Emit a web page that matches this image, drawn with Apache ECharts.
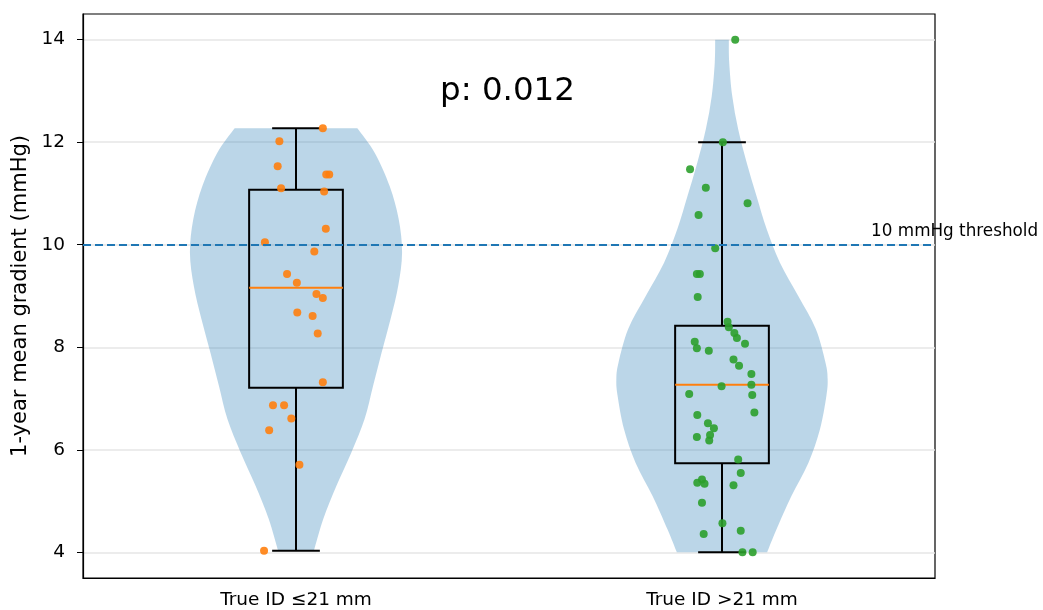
<!DOCTYPE html>
<html>
<head>
<meta charset="utf-8">
<script src="https://cdn.jsdelivr.net/npm/echarts@6/dist/echarts.min.js"></script>
<style>
  html, body { margin: 0; padding: 0; background: #fff; }
  #main { width: 1043px; height: 610px; }
</style>
</head>
<body>
<div id="main"></div>
<script>
var categories = ['True ID ≤21 mm', 'True ID >21 mm'];
var yTicks = [4, 6, 8, 10, 12, 14];
var threshold = 10;

// jittered points, group 1 (x = jittered position, y = gradient)
var group1X = [1.063, 0.961, 0.957, 1.071, 1.078, 0.965, 1.066, 1.070, 0.927, 1.043, 0.979, 1.002,
    1.048, 1.063, 1.003, 1.039, 1.051, 1.063, 0.946, 0.972, 0.989, 0.937, 1.008, 0.925];
var group1Y = [12.27, 12.02, 11.53, 11.37, 11.37, 11.10, 11.04, 10.31, 10.05, 9.87, 9.43, 9.26,
    9.04, 8.96, 8.68, 8.61, 8.27, 7.32, 6.87, 6.87, 6.61, 6.38, 5.71, 4.03];

// group 2
var group2X = [2.031, 2.002, 1.925, 1.962, 2.060, 1.945, 1.984, 1.941, 1.948, 1.943, 2.013, 2.016,
    2.029, 2.035, 2.054, 1.936, 1.941, 1.969, 2.027, 2.040, 2.069, 1.999, 2.069, 1.923, 2.071,
    2.076, 1.942, 1.967, 1.981, 1.972, 1.941, 1.970, 2.038, 2.044, 1.953, 1.942, 1.959, 2.027,
    1.953, 2.001, 2.044, 1.957, 2.048, 2.072];
var group2Y = [14.0, 12.0, 11.47, 11.11, 10.81, 10.58, 9.93, 9.43, 9.43, 8.98, 8.50, 8.39,
    8.28, 8.18, 8.07, 8.11, 7.98, 7.93, 7.76, 7.64, 7.48, 7.24, 7.27, 7.09, 7.07,
    6.73, 6.68, 6.52, 6.42, 6.29, 6.25, 6.18, 5.81, 5.55, 5.42, 5.36, 5.34, 5.31,
    4.97, 4.57, 4.42, 4.36, 4.0, 4.0];

// box stats per group
var boxLow = [4.03, 4.0];
var boxQ1 = [7.21, 5.74];
var boxMedian = [9.16, 7.27];
var boxQ3 = [11.07, 8.42];
var boxHigh = [12.27, 12.0];

// violin outlines: level (gradient) and half width (x units)
var violin1Levels = [4.03, 4.65, 5.30, 5.95, 6.60, 7.25, 7.90, 8.55, 9.20, 9.85, 10.50, 11.14, 11.79, 12.27];
var violin1Half = [0.042, 0.064, 0.095, 0.130, 0.161, 0.181, 0.201, 0.222, 0.240, 0.249, 0.241, 0.220, 0.185, 0.144];
var violin2Levels = [4.0, 4.45, 5.10, 5.75, 6.40, 7.05, 7.38, 7.70, 8.36, 9.0, 9.65, 10.30, 10.95, 11.6, 12.25, 12.9, 13.55, 14.0];
var violin2Half = [0.106, 0.128, 0.163, 0.203, 0.230, 0.245, 0.248, 0.243, 0.220, 0.179, 0.136, 0.105, 0.081, 0.058, 0.038, 0.024, 0.017, 0.016];

var violins = [
    { pos: 1, levels: violin1Levels, half: violin1Half },
    { pos: 2, levels: violin2Levels, half: violin2Half }
];

var font = 'DejaVu Sans';
var fs = 18.5;

var dom = document.getElementById('main');
var myChart = echarts.init(dom, null, { renderer: 'canvas' });

function zip(xs, ys) {
    return xs.map(function (x, i) { return [x, ys[i]]; });
}

// smooth curve through pixel points (catmull-rom as cubic beziers)
function curveThrough(pts) {
    var d = '';
    for (var i = 0; i < pts.length - 1; i++) {
        var p0 = pts[Math.max(i - 1, 0)], p1 = pts[i], p2 = pts[i + 1], p3 = pts[Math.min(i + 2, pts.length - 1)];
        var c1x = p1[0] + (p2[0] - p0[0]) / 6, c1y = p1[1] + (p2[1] - p0[1]) / 6;
        var c2x = p2[0] - (p3[0] - p1[0]) / 6, c2y = p2[1] - (p3[1] - p1[1]) / 6;
        d += ' C' + c1x + ' ' + c1y + ' ' + c2x + ' ' + c2y + ' ' + p2[0] + ' ' + p2[1];
    }
    return d;
}

var option = {
    animation: false,
    title: {
        text: 'p: 0.012',
        left: 435,
        top: 70,
        textStyle: { fontFamily: font, fontSize: 32.5, fontWeight: 'normal', color: '#000' }
    },
    grid: {
        left: 83, right: 108, top: 14, bottom: 31,
        show: true, borderColor: '#000', borderWidth: 1.2
    },
    xAxis: [
        {
            type: 'category',
            data: categories,
            boundaryGap: true,
            axisLine: { lineStyle: { color: '#000', width: 1.2 } },
            axisTick: { alignWithLabel: true, length: 6, lineStyle: { color: '#000' } },
            axisLabel: { fontFamily: font, fontSize: fs, color: '#000', margin: 13 },
            splitLine: { show: false }
        },
        {
            type: 'value',
            min: 0.5, max: 2.5,
            show: false
        }
    ],
    yAxis: {
        type: 'value',
        min: 3.5, max: 14.5,
        name: '1-year mean gradient (mmHg)',
        nameLocation: 'middle',
        nameGap: 50,
        nameTextStyle: { fontFamily: font, fontSize: 21, color: '#000' },
        axisLine: { show: true, lineStyle: { color: '#000', width: 1.2 } },
        axisTick: { show: true, length: 6, customValues: yTicks, lineStyle: { color: '#000' } },
        axisLabel: { fontFamily: font, fontSize: fs, color: '#000', margin: 18, customValues: yTicks },
        splitLine: { show: true, lineStyle: { color: '#e6e6e6', width: 1.5 } }
    },
    series: [
        {
            name: 'violin',
            type: 'custom',
            xAxisIndex: 1,
            yAxisIndex: 0,
            z: 2,
            data: violins.map(function (v) { return [v.pos]; }),
            renderItem: function (params, api) {
                var v = violins[params.dataIndex];
                var left = [], right = [];
                for (var i = 0; i < v.levels.length; i++) {
                    left.push(api.coord([v.pos - v.half[i], v.levels[i]]));
                }
                for (var j = v.levels.length - 1; j >= 0; j--) {
                    right.push(api.coord([v.pos + v.half[j], v.levels[j]]));
                }
                var d = 'M' + left[0][0] + ' ' + left[0][1] + curveThrough(left) +
                    ' L' + right[0][0] + ' ' + right[0][1] + curveThrough(right) + ' Z';
                return {
                    type: 'path',
                    shape: { pathData: d },
                    style: { fill: 'rgba(31,119,180,0.3)', stroke: 'none' }
                };
            }
        },
        {
            name: 'box',
            type: 'custom',
            xAxisIndex: 1,
            yAxisIndex: 0,
            z: 3,
            data: [1, 2].map(function (p, i) {
                return [p, boxLow[i], boxQ1[i], boxMedian[i], boxQ3[i], boxHigh[i]];
            }),
            renderItem: function (params, api) {
                var p = api.value(0);
                var bw = 0.11, cw = 0.056;
                var lo = api.value(1), q1 = api.value(2), md = api.value(3), q3 = api.value(4), hi = api.value(5);
                var tl = api.coord([p - bw, q3]);
                var br = api.coord([p + bw, q1]);
                var black = { stroke: '#000', lineWidth: 2, fill: 'none' };
                function seg(x1, y1, x2, y2, style) {
                    var a = api.coord([x1, y1]), b = api.coord([x2, y2]);
                    return { type: 'line', shape: { x1: a[0], y1: a[1], x2: b[0], y2: b[1] }, style: style };
                }
                return {
                    type: 'group',
                    children: [
                        { type: 'rect', shape: { x: tl[0], y: tl[1], width: br[0] - tl[0], height: br[1] - tl[1] }, style: black },
                        seg(p, q3, p, hi, black),
                        seg(p, q1, p, lo, black),
                        seg(p - cw, hi, p + cw, hi, black),
                        seg(p - cw, lo, p + cw, lo, black),
                        seg(p - bw, md, p + bw, md, { stroke: '#ff7f0e', lineWidth: 2 })
                    ]
                };
            },
            markLine: {
                silent: true,
                symbol: 'none',
                label: { show: false },
                lineStyle: { color: '#1f77b4', type: [8, 4], width: 2 },
                data: [{ yAxis: threshold }]
            }
        },
        {
            name: 'True ID ≤21 mm',
            type: 'scatter',
            xAxisIndex: 1,
            yAxisIndex: 0,
            z: 4,
            symbolSize: 8,
            itemStyle: { color: '#ff7f0e', opacity: 0.9 },
            data: zip(group1X, group1Y)
        },
        {
            name: 'True ID >21 mm',
            type: 'scatter',
            xAxisIndex: 1,
            yAxisIndex: 0,
            z: 4,
            symbolSize: 8,
            itemStyle: { color: '#2ca02c', opacity: 0.9 },
            data: zip(group2X, group2Y)
        }
    ]
};

myChart.setOption(option);

// threshold label, placed from data coordinates
var lp = myChart.convertToPixel({ xAxisIndex: 1, yAxisIndex: 0 }, [2.35, threshold]);
myChart.setOption({
    graphic: [{
        type: 'text',
        x: lp[0],
        y: lp[1] - 5,
        style: {
            text: '10 mmHg threshold',
            fontFamily: font,
            fontSize: 16.8,
            fill: '#000',
            textAlign: 'left',
            textVerticalAlign: 'bottom'
        }
    }]
});

window.addEventListener('resize', myChart.resize);
</script>
</body>
</html>
